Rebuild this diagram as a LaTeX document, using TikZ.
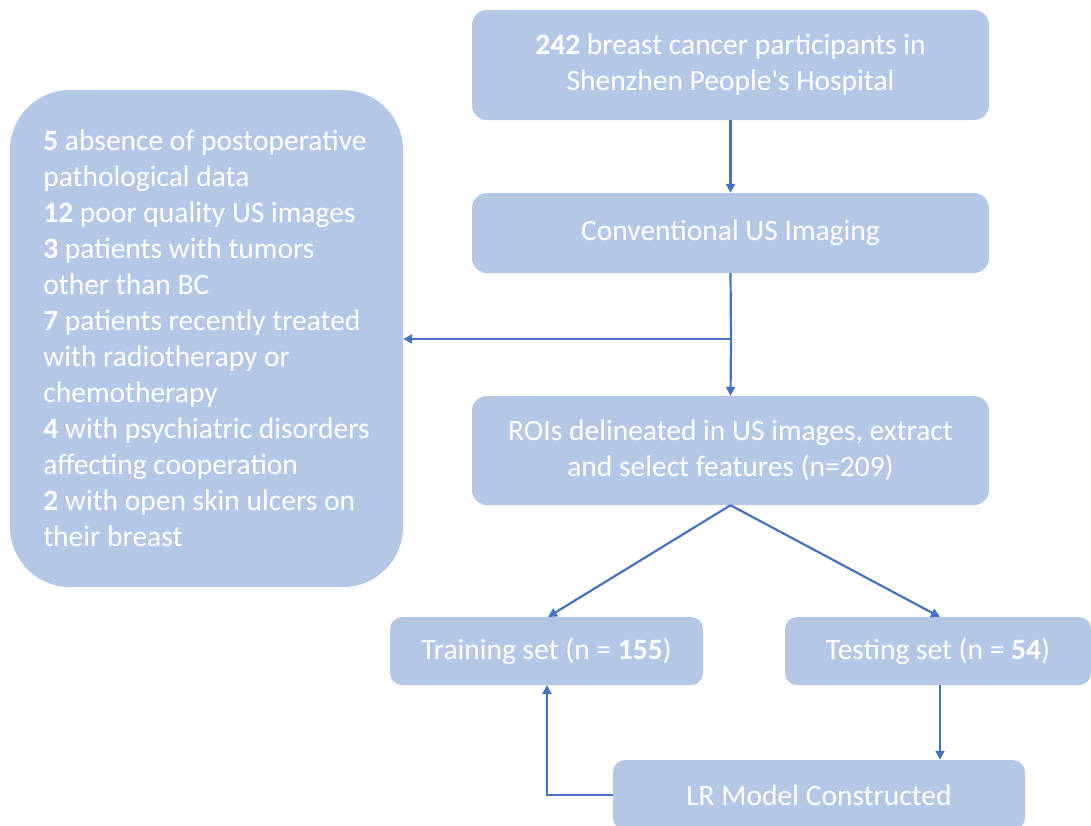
\documentclass[tikz,border=0pt]{standalone}
\usepackage{fontspec}
\setmainfont{Carlito}
\usetikzlibrary{arrows.meta}
\definecolor{boxfill}{HTML}{B4C7E7}
\definecolor{arrowblue}{HTML}{4472C4}
\begin{document}
\begin{tikzpicture}[x=1pt,y=-1pt,
  box/.style={fill=boxfill,rounded corners=15pt,text=white,align=center,inner sep=0pt,
    font=\fontsize{29.5}{36}\selectfont},
  conn/.style={draw=arrowblue,line width=2.2pt,-{Triangle[width=9pt,length=9pt]}},
  plain/.style={draw=arrowblue,line width=2.2pt}]
\useasboundingbox (0,0) rectangle (1091,825);
\node[box,minimum width=517pt,minimum height=110pt] (top) at (730.5,65) {\raisebox{-3pt}{\textbf{242} breast cancer participants in}\\\raisebox{-3pt}{Shenzhen People\textquotesingle s Hospital}};
\node[box,minimum width=517pt,minimum height=80pt] (conv) at (730.5,233) {\raisebox{-3pt}{Conventional US Imaging}};
\node[box,minimum width=517pt,minimum height=109pt] (roi) at (730.5,450.5) {\raisebox{-3pt}{ROIs delineated in US images, extract}\\\raisebox{-3pt}{and select features (n=209)}};
\node[box,rounded corners=60pt,minimum width=393pt,minimum height=497pt,align=left] (excl) at (206.5,338.5) {\textbf{5} absence of postoperative\\
pathological data\\
\textbf{12} poor quality US images\\
\textbf{3} patients with tumors\\
other than BC\\
\textbf{7} patients recently treated\\
with radiotherapy or\\
chemotherapy\\
\textbf{4} with psychiatric disorders\\
affecting cooperation\\
\textbf{2} with open skin ulcers on\\
their breast};
\node[box,rounded corners=12pt,minimum width=313pt,minimum height=68pt] (train) at (546.5,651) {\raisebox{-2pt}{Training set (n = \textbf{155})}};
\node[box,rounded corners=12pt,minimum width=306pt,minimum height=68pt] (test) at (938,651) {\raisebox{-2pt}{Testing set (n = \textbf{54})}};
\node[box,rounded corners=12pt,minimum width=412pt,minimum height=70pt] (lr) at (819,795) {\raisebox{-2pt}{LR Model Constructed}};
\coordinate (split) at (731,339);
\draw[conn] (top.south) -- (conv.north);
\draw[plain] (conv.south) -- (split);
\draw[conn] (split) -- (roi.north);
\draw[conn] (split) -- (excl.east |- split);
\draw[conn] (roi.south) -- (548,617);
\draw[conn] (roi.south) -- (940,617);
\draw[conn] (test.south -| 940,0) -- (lr.north -| 940,0);
\draw[conn] (lr.west |- 0,795) -- (547,795) -- (547,685);
\end{tikzpicture}
\end{document}
